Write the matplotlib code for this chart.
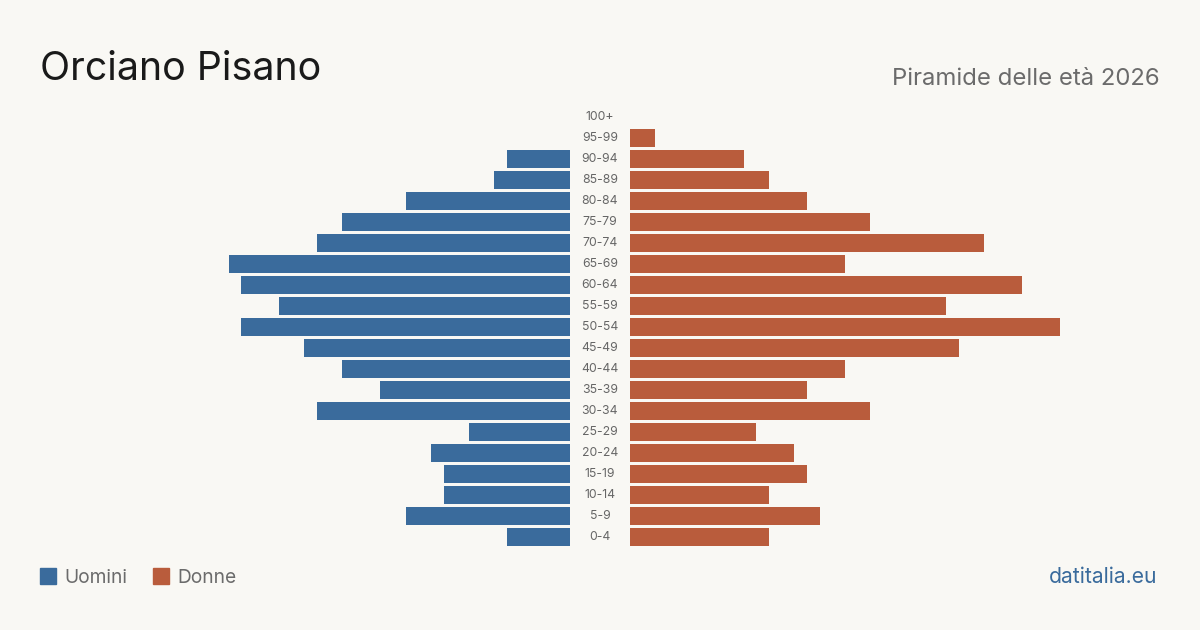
import matplotlib
matplotlib.use("Agg")
import matplotlib.pyplot as plt
import matplotlib.patches as mpatches
import numpy as np

# ── Data (persons per age class) ──────────────────────────────────────────────
age_groups = ["0-4", "5-9", "10-14", "15-19", "20-24", "25-29", "30-34",
              "35-39", "40-44", "45-49", "50-54", "55-59", "60-64", "65-69",
              "70-74", "75-79", "80-84", "85-89", "90-94", "95-99", "100+"]
men = [5, 13, 10, 10, 11, 8, 20, 15, 18, 21, 26, 23, 26, 27, 20, 18, 13, 6, 5, 0, 0]
women = [11, 15, 11, 14, 13, 10, 19, 14, 17, 26, 34, 25, 31, 17, 28, 19, 14, 11, 9, 2, 0]

title = "Orciano Pisano"
subtitle = "Piramide delle età 2026"
legend_labels = ["Uomini", "Donne"]
source = "datitalia.eu"

# ── Style ─────────────────────────────────────────────────────────────────────
BG = "#f9f8f4"
BLUE = "#3a6b9c"
RED = "#b95c3c"
plt.rcParams["font.family"] = ["Inter", "DejaVu Sans"]

W, H = 1200, 630
fig = plt.figure(figsize=(12, 6.3), dpi=100, facecolor=BG)

# axes positions in pixels: rows from top of 100+ to bottom of 0-4
top_px, bot_px = 106.5, 547.5
n = len(age_groups)
xmax = max(max(men), max(women))
ax_h = (bot_px - top_px) / H
ax_y = 1 - bot_px / H

ax_l = fig.add_axes([140 / W, ax_y, 430 / W, ax_h])
ax_r = fig.add_axes([630 / W, ax_y, 430 / W, ax_h])

y = np.arange(n)
ax_l.barh(y, men, height=0.81, color=BLUE)
ax_r.barh(y, women, height=0.81, color=RED)

for ax in (ax_l, ax_r):
    ax.set_facecolor(BG)
    ax.set_ylim(-0.5, n - 0.5)
    ax.axis("off")
ax_l.set_xlim(xmax, 0)
ax_r.set_xlim(0, xmax)

# age labels centred in the gap
for i, lab in enumerate(age_groups):
    ax_r.annotate(lab, xy=(0, i), xycoords=("axes fraction", "data"),
                  xytext=(-30 * 0.72, 0), textcoords="offset points",
                  ha="center", va="center", fontsize=8.8, color="#666666")

# ── Texts ─────────────────────────────────────────────────────────────────────
fig.text(40 / W, 1 - 80 / H, title, fontsize=28.3, color="#1a1a1a",
         ha="left", va="baseline")
fig.text(1160 / W, 1 - 85 / H, subtitle, fontsize=17.2, color="#6b6b6b",
         ha="right", va="baseline")

# legend
for i, (lab, col) in enumerate(zip(legend_labels, [BLUE, RED])):
    x0 = 40 + i * 113
    fig.patches.append(mpatches.Rectangle((x0 / W, 1 - 584 / H), 16 / W, 16 / H,
                                          transform=fig.transFigure,
                                          color=col, figure=fig))
    fig.text((x0 + 24) / W, 1 - 583 / H, lab, fontsize=13.8, color="#6b6b6b",
             ha="left", va="baseline")

fig.text(1157 / W, 1 - 583 / H, source, fontsize=15.2, color=BLUE,
         ha="right", va="baseline")

fig.savefig("out.png", dpi=100, facecolor=BG)
